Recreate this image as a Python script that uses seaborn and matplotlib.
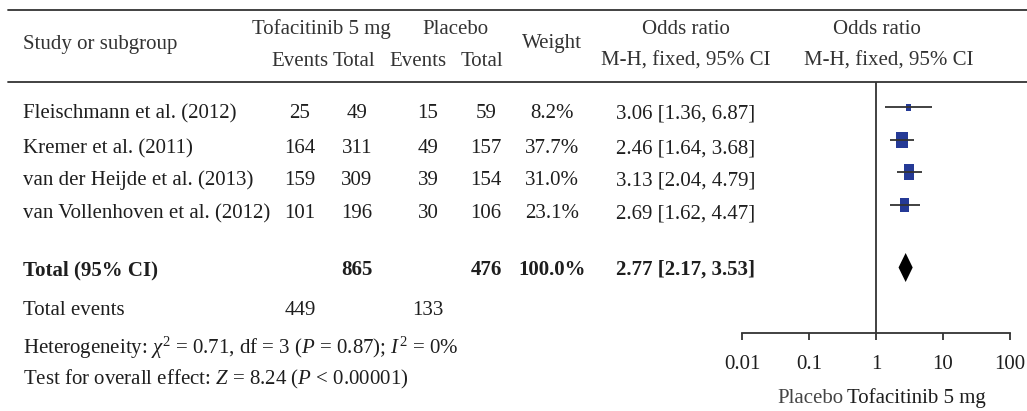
import matplotlib
matplotlib.use("Agg")
import numpy as np
import pandas as pd
import matplotlib.pyplot as plt
import seaborn as sns
from matplotlib.ticker import NullLocator

# ---- data ----
studies = [
    "Fleischmann et al. (2012)",
    "Kremer et al. (2011)",
    "van der Heijde et al. (2013)",
    "van Vollenhoven et al. (2012)",
]
tofa_events = [25, 164, 159, 101]
tofa_total = [49, 311, 309, 196]
pbo_events = [15, 49, 39, 30]
pbo_total = [59, 157, 154, 106]
weights = [8.2, 37.7, 31.0, 23.1]
odds = [3.06, 2.46, 3.13, 2.69]
ci_low = [1.36, 1.64, 2.04, 1.62]
ci_high = [6.87, 3.68, 4.79, 4.47]

total_or = 2.77
total_low = 2.17
total_high = 3.53
total_tofa_n = 865
total_pbo_n = 476
total_tofa_events = 449
total_pbo_events = 133
total_weight = 100.0

x_ticks = [0.01, 0.1, 1, 10, 100]
tick_labels = ["0.01", "0.1", "1", "10", "100"]

heterogeneity = r"Heterogeneity: $\chi^2$ = 0.71, df = 3 ($P$ = 0.87); $I^2$ = 0%"
overall = r"Test for overall effect: $Z$ = 8.24 ($P$ < 0.00001)"

# ---- layout (pixels, y measured from the top) ----
W, H = 1027, 411
row_base = [118, 153, 185, 218]
mark_y = [107.5, 140, 172, 205]
total_base, total_mark_y = 275, 267.5
events_base = 315
plot_left, plot_right, plot_top, plot_bottom = 742, 1010, 82, 333

col_te, col_tt, col_pe, col_pt, col_w, col_or = 300, 357, 428, 486, 552, 686

TEXT = "#1e1e1e"
HEAD = "#333333"
LINE = "#333333"
BLUE = "#253a96"

sns.set_theme(style="white")
plt.rcParams["font.family"] = ["Liberation Serif", "DejaVu Serif"]
plt.rcParams["mathtext.fontset"] = "custom"
plt.rcParams["mathtext.rm"] = "Liberation Serif"
plt.rcParams["mathtext.it"] = "Liberation Serif:italic"
FS = 15

fig = plt.figure(figsize=(W / 100, H / 100), dpi=100)
bg = fig.add_axes([0, 0, 1, 1])
bg.set_xlim(0, W)
bg.set_ylim(H, 0)
bg.axis("off")


def put(x, y, s, ha="center", bold=False, color=TEXT):
    bg.text(x, y, s, ha=ha, va="baseline", fontsize=FS, color=color,
            fontweight="bold" if bold else "normal")


# rules
bg.plot([8, W], [10, 10], color=LINE, lw=1.3)
bg.plot([8, W], [82, 82], color=LINE, lw=1.3)

# header
put(23, 49, "Study or subgroup", ha="left", color=HEAD)
put(321, 34, "Tofacitinib 5 mg", color=HEAD)
put(455, 34, "Placebo", color=HEAD)
for x, s in [(300, "Events"), (354, "Total"), (418, "Events"), (482, "Total")]:
    put(x, 66, s, color=HEAD)
put(col_w, 48, "Weight", color=HEAD)
put(col_or, 34, "Odds ratio", color=HEAD)
put(col_or, 66, "M-H, fixed, 95% CI", color=HEAD)
put(877, 34, "Odds ratio", color=HEAD)
put(889, 66, "M-H, fixed, 95% CI", color=HEAD)

# study rows
for i, y in enumerate(row_base):
    put(23, y, studies[i], ha="left")
    put(col_te, y, str(tofa_events[i]))
    put(col_tt, y, str(tofa_total[i]))
    put(col_pe, y, str(pbo_events[i]))
    put(col_pt, y, str(pbo_total[i]))
    put(col_w, y, f"{weights[i]:.1f}%")
    put(col_or, y, f"{odds[i]:.2f} [{ci_low[i]:.2f}, {ci_high[i]:.2f}]")

# totals
put(23, total_base, "Total (95% CI)", ha="left", bold=True)
put(col_tt, total_base, str(total_tofa_n), bold=True)
put(col_pt, total_base, str(total_pbo_n), bold=True)
put(col_w, total_base, f"{total_weight:.1f}%", bold=True)
put(col_or, total_base, f"{total_or:.2f} [{total_low:.2f}, {total_high:.2f}]", bold=True)
put(23, events_base, "Total events", ha="left")
put(col_te, events_base, str(total_tofa_events))
put(col_pe, events_base, str(total_pbo_events))

put(23, 354, heterogeneity, ha="left")
put(23, 384, overall, ha="left")

put(843, 403, "Placebo", ha="right", color="#444444")
put(847, 403, "Tofacitinib 5 mg", ha="left")

# ---- forest panel ----
fax = fig.add_axes([plot_left / W, 1 - plot_bottom / H,
                    (plot_right - plot_left) / W, (plot_bottom - plot_top) / H])
fax.patch.set_alpha(0)
fax.set_xscale("log")
fax.set_xlim(x_ticks[0], x_ticks[-1])
fax.set_ylim(plot_bottom, plot_top)

df = pd.DataFrame({"study": studies, "odds": odds, "lo": ci_low, "hi": ci_high,
                   "weight": weights, "y": mark_y})

fax.axvline(1, color=LINE, lw=1.3)
fax.hlines(df["y"], df["lo"], df["hi"], color=LINE, lw=1.3)
rect = [(-0.7, -1), (0.7, -1), (0.7, 1), (-0.7, 1)]
k = 3.8  # marker area per weight percent
sns.scatterplot(data=df, x="odds", y="y", size="weight",
                sizes=(k * min(weights), k * max(weights)),
                marker=rect, color=BLUE, linewidth=0, legend=False, ax=fax)
fax.fill([total_low, total_or, total_high, total_or],
         [total_mark_y, total_mark_y - 14.5, total_mark_y, total_mark_y + 14.5],
         color="black", lw=0)

for side in ["left", "top", "right"]:
    fax.spines[side].set_visible(False)
fax.spines["bottom"].set_color(LINE)
fax.spines["bottom"].set_linewidth(1.3)
fax.set_xticks(x_ticks, tick_labels)
fax.xaxis.set_minor_locator(NullLocator())
fax.set_yticks([])
fax.tick_params(axis="x", bottom=True, direction="out", length=5, width=1.3,
                pad=11, labelsize=FS, color=LINE, labelcolor=TEXT)
fax.set_xlabel("")
fax.set_ylabel("")

fig.savefig("out.png", dpi=100)
